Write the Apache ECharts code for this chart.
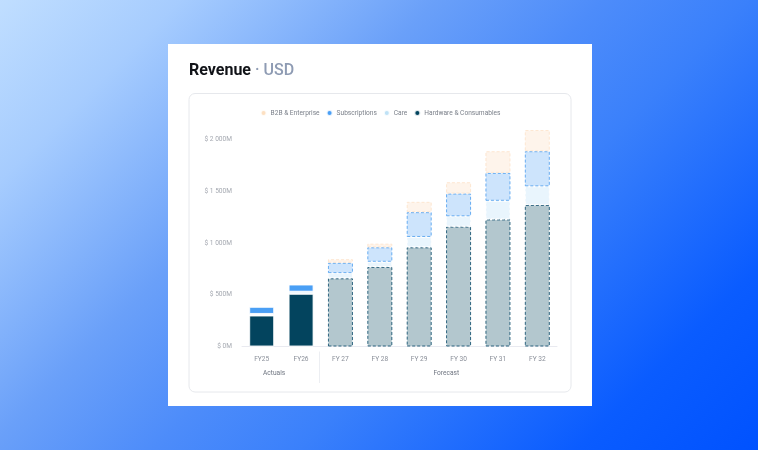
<!DOCTYPE html>
<html>
<head>
<meta charset="utf-8">
<script src="https://cdn.jsdelivr.net/npm/echarts@6/dist/echarts.min.js"></script>
<style>
  html, body { margin:0; padding:0; width:758px; height:450px; overflow:hidden; }
  body { background: linear-gradient(135deg, #c0deff 0%, #a6ccfe 15%, #6aa0f9 36%, #4d8cfa 50%, #3a80fb 62%, #0a5cff 85%, #0052ff 100%); position:relative; }
  #card { position:absolute; left:168px; top:44px; width:424px; height:362px; background:#ffffff; }
  #chart { position:absolute; left:0; top:0; width:424px; height:362px; }
</style>
</head>
<body>
<div id="card"><div id="chart"></div></div>
<script>
const categories = ['FY25', 'FY26', 'FY 27', 'FY 28', 'FY 29', 'FY 30', 'FY 31', 'FY 32'];
const forecastStart = 2; // index of first forecast year
const hardware = [300, 510, 660, 770, 960, 1160, 1230, 1370];
const care = [15, 20, 50, 50, 100, 100, 180, 180];
const subscriptions = [70, 70, 100, 140, 240, 220, 270, 340];
const b2b = [0, 0, 35, 35, 100, 110, 210, 205];
const yTicks = [0, 500, 1000, 1500, 2000];
const groupLabels = ['Actuals', 'Forecast'];

const FONT = 'Roboto, "Noto Sans", sans-serif';
const SMALL = 6.6;

const seriesDefs = [
  { name: 'Hardware & Consumables', data: hardware, color: '#03445e', fFill: 'rgba(3,68,94,0.30)', fBorder: 'rgba(18,80,110,0.85)' },
  { name: 'Care', data: care, color: '#bfe2f6', fFill: 'rgba(200,230,250,0.40)', fBorder: 'rgba(255,255,255,0.95)' },
  { name: 'Subscriptions', data: subscriptions, color: '#4a9ff5', fFill: 'rgba(74,159,245,0.28)', fBorder: 'rgba(90,165,240,0.9)' },
  { name: 'B2B & Enterprise', data: b2b, color: '#fde0c2', fFill: 'rgba(253,222,192,0.32)', fBorder: 'rgba(253,228,205,0.9)' }
];

function fmt(v) {
  if (v >= 1000) return '$ ' + Math.floor(v / 1000) + ' ' + String(v % 1000).padStart(3, '0') + 'M';
  return '$ ' + v + 'M';
}

const chart = echarts.init(document.getElementById('chart'), null, { renderer: 'canvas' });

const series = seriesDefs.map(s => ({
  name: s.name,
  type: 'bar',
  stack: 'total',
  barWidth: 25,
  itemStyle: { color: s.color, borderColor: 'rgba(255,255,255,0.85)', borderWidth: 1 },
  emphasis: { disabled: true },
  data: s.data.map((v, i) => i < forecastStart ? v : {
    value: v,
    itemStyle: { color: s.fFill, borderColor: s.fBorder, borderWidth: 1, borderType: [3, 2] }
  })
}));

chart.setOption({
  animation: false,
  backgroundColor: 'transparent',
  textStyle: { fontFamily: FONT },
  title: {
    left: 21, top: 18.5, padding: 0,
    text: '{a|Revenue}{b| · USD}',
    textStyle: {
      rich: {
        a: { fontSize: 16, fontWeight: 'bold', color: '#111318', fontFamily: FONT },
        b: { fontSize: 16, fontWeight: 500, color: '#8e9bb3', fontFamily: FONT }
      }
    }
  },
  legend: {
    top: 60, left: 'center',
    icon: 'circle', itemWidth: 6, itemHeight: 6, itemGap: 6,
    textStyle: { fontSize: SMALL, color: '#7b808a', padding: [0, 0, 0, -1], fontFamily: FONT },
    data: ['B2B & Enterprise', 'Subscriptions', 'Care', 'Hardware & Consumables']
  },
  grid: { left: 74, right: 35, top: 85.5, bottom: 59.5, containLabel: false },
  xAxis: {
    type: 'category',
    data: categories,
    axisLine: { show: true, lineStyle: { color: '#e9eaf0', width: 1 } },
    axisTick: { show: false },
    axisLabel: { fontSize: SMALL, color: '#8a8f99', margin: 9, fontFamily: FONT }
  },
  yAxis: {
    type: 'value',
    min: 0, max: 2100, interval: 500,
    splitLine: { show: false },
    axisLine: { show: false },
    axisTick: { show: false },
    axisLabel: {
      fontSize: SMALL, color: '#a4a8b0', margin: 10, showMaxLabel: false, fontFamily: FONT,
      formatter: v => yTicks.includes(v) ? fmt(v) : ''
    }
  },
  graphic: [
    { type: 'rect', z: -10, shape: { x: 21, y: 49.5, width: 382, height: 298.5, r: 6 },
      style: { fill: '#ffffff', stroke: '#e6e8ec', lineWidth: 1 } },
    { type: 'line', z: -5, shape: { x1: 151.5, y1: 307.5, x2: 151.5, y2: 339 },
      style: { stroke: '#eceef2', lineWidth: 1 } },
    { type: 'text', left: 95, top: 325.5,
      style: { text: groupLabels[0], fontSize: SMALL, fill: '#6f7580', fontFamily: FONT } },
    { type: 'text', left: 265.5, top: 325.5,
      style: { text: groupLabels[1], fontSize: SMALL, fill: '#6f7580', fontFamily: FONT } }
  ],
  series: series
});
</script>
</body>
</html>
